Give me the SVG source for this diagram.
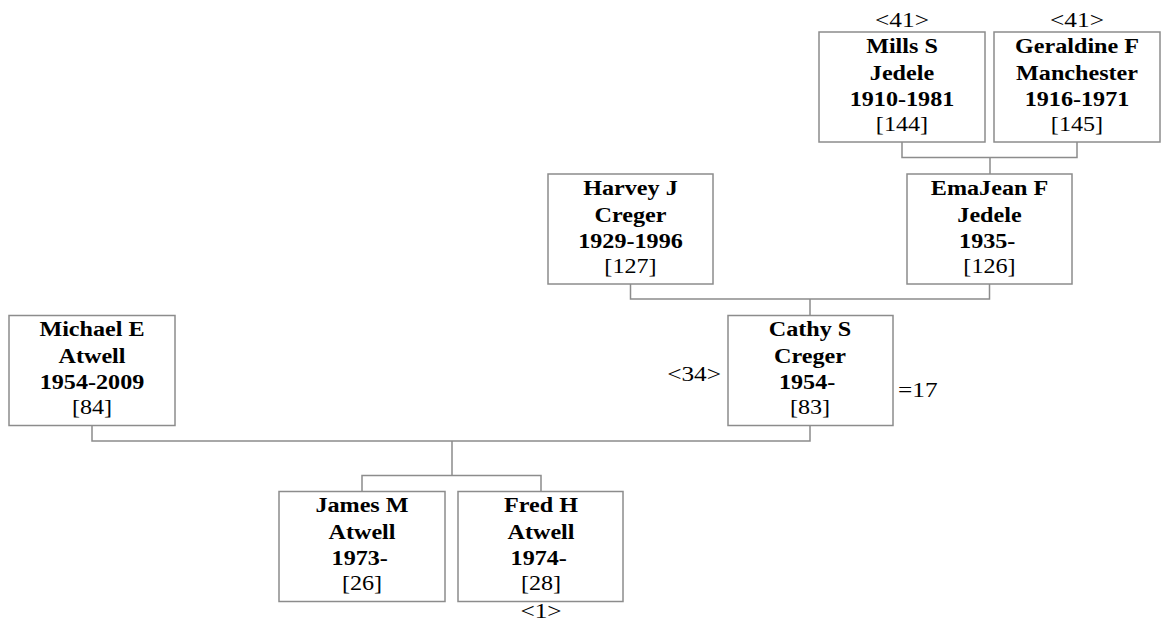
<svg xmlns="http://www.w3.org/2000/svg" width="1168" height="626" viewBox="0 0 1168 626">
<style>
.box{fill:#fff;stroke:#8c8c8c;stroke-width:1.5}
.c{fill:none;stroke:#8c8c8c;stroke-width:1.5}
text{font-family:"Liberation Serif","Times New Roman",serif;font-size:21px;fill:#000;text-anchor:middle}
.b{font-weight:bold}
.l{text-anchor:start}
.r{text-anchor:end}
.a{font-size:22px}
</style>
<rect width="1168" height="626" fill="#fff"/>
<g id="connectors">
<path class="c" d="M902,142V157.5H1077V142M990,157.5V174"/>
<path class="c" d="M630.5,284V299H989.5V284M810,299V315.5"/>
<path class="c" d="M92,425.5V441H810V425.5M452,441V475.5M362,491.5V475.5H541V491.5"/>
</g>
<g id="n144">
<rect class="box" x="819" y="32" width="166" height="110"/>
<g transform="translate(902,0) scale(1.15,1)">
<text x="0" y="53" class="b">Mills S</text>
<text x="0" y="80" class="b">Jedele</text>
<text x="0" y="106" class="b">1910-1981</text>
<text x="0" y="131">[144]</text>
<text x="0" y="27" class="a">&lt;41&gt;</text>
</g>
</g>
<g id="n145">
<rect class="box" x="994" y="32" width="166" height="110"/>
<g transform="translate(1077,0) scale(1.15,1)">
<text x="0" y="53" class="b">Geraldine F</text>
<text x="0" y="80" class="b">Manchester</text>
<text x="0" y="106" class="b">1916-1971</text>
<text x="0" y="131">[145]</text>
<text x="0" y="27" class="a">&lt;41&gt;</text>
</g>
</g>
<g id="n127">
<rect class="box" x="548" y="174" width="165" height="110"/>
<g transform="translate(630.5,0) scale(1.15,1)">
<text x="0" y="195" class="b">Harvey J</text>
<text x="0" y="222" class="b">Creger</text>
<text x="0" y="248" class="b">1929-1996</text>
<text x="0" y="273">[127]</text>
</g>
</g>
<g id="n126">
<rect class="box" x="907" y="174" width="165" height="110"/>
<g transform="translate(989.5,0) scale(1.15,1)">
<text x="0" y="195" class="b">EmaJean F</text>
<text x="0" y="222" class="b">Jedele</text>
<text x="-2" y="248" class="b">1935-</text>
<text x="0" y="273">[126]</text>
</g>
</g>
<g id="n84">
<rect class="box" x="9" y="315.5" width="166" height="110"/>
<g transform="translate(92,0) scale(1.15,1)">
<text x="0" y="336.5" class="b">Michael E</text>
<text x="0" y="363.5" class="b">Atwell</text>
<text x="0" y="389.5" class="b">1954-2009</text>
<text x="0" y="414.5">[84]</text>
</g>
</g>
<g id="n83">
<rect class="box" x="728" y="315.5" width="165" height="110"/>
<g transform="translate(810,0) scale(1.15,1)">
<text x="0" y="336.5" class="b">Cathy S</text>
<text x="0" y="363.5" class="b">Creger</text>
<text x="-2.5" y="389.5" class="b">1954-</text>
<text x="0" y="414.5">[83]</text>
</g>
<g transform="translate(721,381) scale(1.15,1)"><text x="0" y="0" class="r a">&lt;34&gt;</text></g>
<g transform="translate(898,397) scale(1.15,1)"><text x="0" y="0" class="l a">=17</text></g>
</g>
<g id="n26">
<rect class="box" x="279" y="491.5" width="166" height="110"/>
<g transform="translate(362,0) scale(1.15,1)">
<text x="0" y="512.5" class="b">James M</text>
<text x="0" y="539.5" class="b">Atwell</text>
<text x="-2" y="565.5" class="b">1973-</text>
<text x="0" y="590.5">[26]</text>
</g>
</g>
<g id="n28">
<rect class="box" x="458" y="491.5" width="165" height="110"/>
<g transform="translate(541,0) scale(1.15,1)">
<text x="0" y="512.5" class="b">Fred H</text>
<text x="0" y="539.5" class="b">Atwell</text>
<text x="-2" y="565.5" class="b">1974-</text>
<text x="0" y="590.5">[28]</text>
<text x="0" y="618" class="a">&lt;1&gt;</text>
</g>
</g>
</svg>
